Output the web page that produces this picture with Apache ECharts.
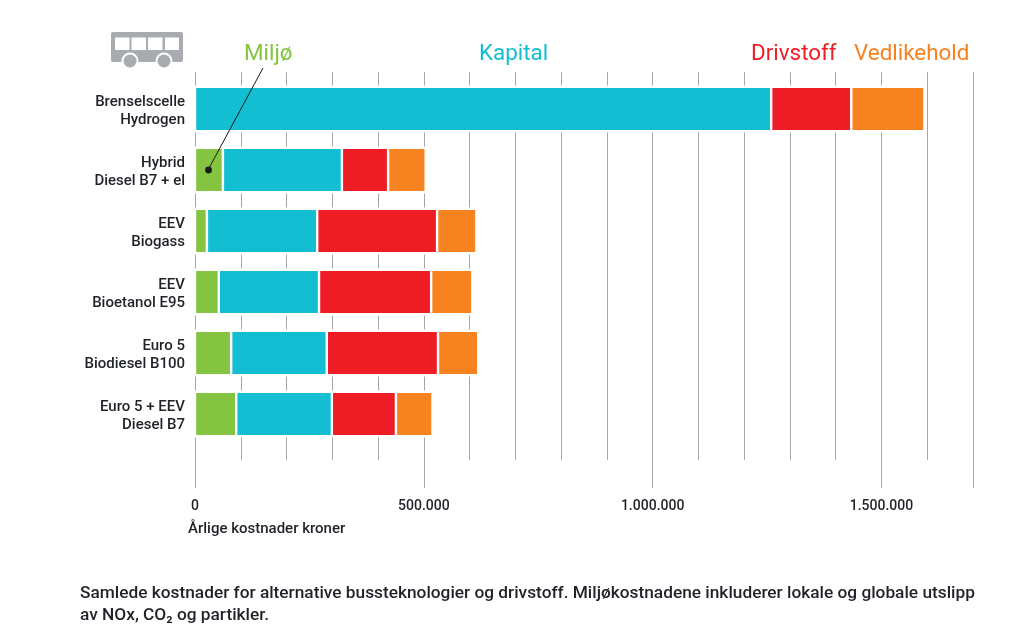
<!DOCTYPE html>
<html><head><meta charset="utf-8">
<style>html,body{margin:0;padding:0;background:#fff}#c{width:1009px;height:642px}</style>
<script src="https://cdn.jsdelivr.net/npm/echarts@6/dist/echarts.min.js"></script>
</head><body><div id="c"></div>
<script>
const categories = ["Brenselscelle\nHydrogen","Hybrid\nDiesel B7 + el","EEV\nBiogass","EEV\nBioetanol E95","Euro 5\nBiodiesel B100","Euro 5 + EEV\nDiesel B7"];
const miljo = [0,61000,26000,52000,79000,90000];
const kapital = [1259000,260000,241000,219000,209000,209000];
const drivstoff = [175000,101000,262000,245000,243000,140000];
const vedlikehold = [160000,82000,86000,90000,88000,80000];
const seriesNames = ["Miljø","Kapital","Drivstoff","Vedlikehold"];
const colors = ["#84c441","#13bed2","#ee1c25","#f78220"];
const FONT = "Roboto";
const ink = "#1f2228", gridCol = "#a3a7aa", busCol = "#a8acb0";
const fmt = v => String(v).replace(/\B(?=(\d{3})+$)/g,".");
const totals = categories.map((_,i)=>miljo[i]+kapital[i]+drivstoff[i]+vedlikehold[i]);
const chart = echarts.init(document.getElementById('c'),null,{renderer:'canvas'});
const legendText=(t,x,c)=>({type:'text',left:x,top:43,z:20,style:{text:t,fill:c,font:`400 22.4px ${FONT}`}});
const xBase={type:'value',min:0,max:1700000,axisLine:{show:false},axisTick:{show:false}};
const yHidden={type:'category',data:categories,show:false};
const plotBox={left:195,top:78.5,width:778,height:366};
chart.setOption({
  animation:false,
  backgroundColor:'#fff',
  grid:[
    {left:195,top:72,width:778,height:388},
    {left:195,top:72,width:778,height:416},
    plotBox,
    plotBox,
    {left:195,top:81,width:778,height:366}
  ],
  xAxis:[
    {...xBase,gridIndex:0,interval:100000,axisLabel:{show:false},splitLine:{show:true,lineStyle:{color:gridCol,width:1}}},
    {...xBase,gridIndex:1,interval:500000,
      axisLabel:{show:true,margin:11,color:ink,fontFamily:FONT,fontWeight:500,fontSize:14,formatter:v=>v>1500000?'':fmt(v),hideOverlap:false},
      splitLine:{show:true,lineStyle:{color:gridCol,width:1}}},
    {...xBase,gridIndex:2,show:false},
    {...xBase,gridIndex:3,show:false},
    {...xBase,gridIndex:4,show:false}
  ],
  yAxis:[
    {...yHidden,gridIndex:0},
    {...yHidden,gridIndex:1},
    {...yHidden,gridIndex:2,inverse:true},
    {...yHidden,gridIndex:3,inverse:true},
    {type:'category',gridIndex:4,data:categories,inverse:true,axisLine:{show:false},axisTick:{show:false},
      axisLabel:{margin:10,align:'right',color:ink,fontFamily:FONT,fontWeight:500,fontSize:15,lineHeight:18}}
  ],
  series:[
    {type:'bar',name:'halo',xAxisIndex:3,yAxisIndex:3,barWidth:47,data:totals,z:3,silent:true,itemStyle:{color:'#fff'}},
    ...[miljo,kapital,drivstoff,vedlikehold].map((d,i)=>({
      name:seriesNames[i],type:'bar',stack:'t',xAxisIndex:2,yAxisIndex:2,barWidth:44.4,data:d,z:5,
      itemStyle:{color:colors[i],borderColor:'#fff',borderWidth:1.2}
    }))
  ],
  graphic:[
    legendText("Miljø",244,colors[0]),
    legendText("Kapital",479,colors[1]),
    legendText("Drivstoff",751,colors[2]),
    legendText("Vedlikehold",854,colors[3]),
    {type:'line',z:20,shape:{x1:263,y1:68,x2:208,y2:170},style:{stroke:'#1a1a1a',lineWidth:1}},
    {type:'circle',z:20,shape:{cx:208.5,cy:170,r:3.4},style:{fill:'#1a1a1a'}},
    // bus icon
    {type:'rect',z:20,shape:{x:111,y:32,width:72,height:30,r:2},style:{fill:busCol}},
    ...[115,131.5,148,165].map((x,i)=>({type:'rect',z:21,shape:{x,y:37.5,width:i==3?14:14.5,height:12.5},style:{fill:'#fff'}})),
    ...[130,164].map(cx=>({type:'circle',z:21,shape:{cx,cy:61,r:8.5},style:{fill:'#fff'}})),
    ...[130,164].map(cx=>({type:'circle',z:22,shape:{cx,cy:61,r:6.5},style:{fill:busCol}})),
    {type:'text',left:188,top:522,z:20,style:{text:"Årlige kostnader kroner",fill:ink,font:`500 15px ${FONT}`}},
    {type:'text',left:80,top:583,z:20,style:{text:"Samlede kostnader for alternative bussteknologier og drivstoff. Miljøkostnadene inkluderer lokale og globale utslipp\nav NOx, CO₂ og partikler.",fill:ink,font:`500 17.3px ${FONT}`,lineHeight:22}}
  ]
});
</script></body></html>
